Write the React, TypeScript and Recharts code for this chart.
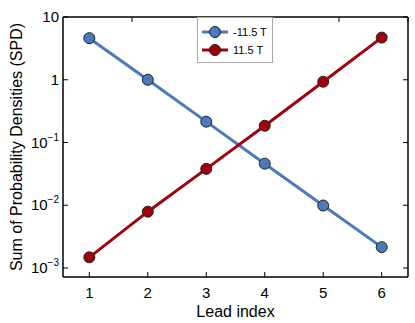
import React from "react"
import { LineChart, Line, XAxis, YAxis, Legend } from "recharts"

const leads = [1, 2, 3, 4, 5, 6]
const negField = [4.6, 1.0, 0.215, 0.046, 0.0099, 0.00215]
const posField = [0.00148, 0.0079, 0.038, 0.185, 0.93, 4.7]
const xTicks = [1, 2, 3, 4, 5, 6]
const yTicks = [0.001, 0.01, 0.1, 1, 10]
const seriesNames = ["-11.5 T", "11.5 T"]

const BLUE = "#4a7abb"
const RED = "#a2000f"
const FONT = "'Liberation Sans', Arial, Helvetica, sans-serif"

const data = leads.map((lead, i) => ({ lead, neg: negField[i], pos: posField[i] }))

const BottomTick = ({ x, y, payload }: any) => (
  <g>
    <line x1={x} x2={x} y1={y} y2={y - 5} stroke="#000" />
    <text x={x} y={y + 21} textAnchor="middle" fontSize={15} fontFamily={FONT} fill="#000">
      {payload.value}
    </text>
  </g>
)

const TopTick = ({ x, y }: any) => <line x1={x} x2={x} y1={y} y2={y + 5} stroke="#000" />

const RightTick = ({ x, y }: any) => <line x1={x} x2={x - 5} y1={y} y2={y} stroke="#000" />

const LeftTick = ({ x, y, payload }: any) => {
  const v = payload.value
  const exp = Math.round(Math.log10(v))
  return (
    <g>
      <line x1={x} x2={x + 5} y1={y} y2={y} stroke="#000" />
      <text x={x - 4} y={y + 5} textAnchor="end" fontSize={15} fontFamily={FONT} fill="#000">
        {exp >= 0 ? String(v) : (
          <>
            10<tspan dy={-7} fontSize={10}>{"\u2212" + -exp}</tspan>
          </>
        )}
      </text>
    </g>
  )
}

const LegendBox = () => (
  <div style={{ width: 76, height: 46, border: "1px solid #aaa", background: "#fff", boxSizing: "border-box" }}>
    <svg width={74} height={44}>
      {[BLUE, RED].map((c, i) => (
        <g key={i}>
          <line x1={4} x2={30} y1={14 + i * 18} y2={14 + i * 18} stroke={c} strokeWidth={3} />
          <circle cx={17} cy={14 + i * 18} r={5.5} fill={c} stroke="#222" strokeWidth={1} />
          <text x={35} y={18 + i * 18} fontSize={11} fontFamily={FONT} fill="#000">{seriesNames[i]}</text>
        </g>
      ))}
    </svg>
  </div>
)

export default function App() {
  return (
    <div style={{ position: "absolute", left: 0, top: 0, width: 415, height: 323, background: "#fff" }}>
      <LineChart width={415} height={323} data={data} margin={{ top: 0, right: 0, left: 0, bottom: 0 }}>
        <XAxis
          dataKey="lead"
          type="number"
          domain={[0.55, 6.45]}
          ticks={xTicks}
          allowDataOverflow
          height={46}
          tickSize={0}
          tickMargin={0}
          tickLine={false}
          axisLine={{ stroke: "#000", strokeWidth: 1.5 }}
          tick={<BottomTick />}
          interval={0}
        />
        <XAxis
          xAxisId="top"
          orientation="top"
          type="number"
          domain={[0.55, 6.45]}
          ticks={xTicks}
          allowDataOverflow
          height={17}
          tickSize={0}
          tickMargin={0}
          tickLine={false}
          axisLine={{ stroke: "#000", strokeWidth: 1.5 }}
          tick={<TopTick />}
          interval={0}
        />
        <YAxis
          scale="log"
          type="number"
          domain={[7.19e-4, 10]}
          ticks={yTicks}
          allowDataOverflow
          width={63}
          tickSize={0}
          tickMargin={0}
          tickLine={false}
          axisLine={{ stroke: "#000", strokeWidth: 1.5 }}
          tick={<LeftTick />}
          interval={0}
        />
        <YAxis
          yAxisId="right"
          orientation="right"
          scale="log"
          type="number"
          domain={[7.19e-4, 10]}
          ticks={yTicks}
          allowDataOverflow
          width={7}
          tickSize={0}
          tickMargin={0}
          tickLine={false}
          axisLine={{ stroke: "#000", strokeWidth: 1.5 }}
          tick={<RightTick />}
          interval={0}
        />
        <Legend
          layout="vertical"
          align="center"
          verticalAlign="middle"
          content={<LegendBox />}
          wrapperStyle={{ left: 197, top: 17, width: 76, height: 46 }}
        />
        <Line
          dataKey="neg"
          name={seriesNames[0]}
          stroke={BLUE}
          strokeWidth={3}
          dot={{ r: 5.5, fill: BLUE, stroke: "#222", strokeWidth: 1 }}
          isAnimationActive={false}
        />
        <Line
          dataKey="pos"
          name={seriesNames[1]}
          stroke={RED}
          strokeWidth={3}
          dot={{ r: 5.5, fill: RED, stroke: "#222", strokeWidth: 1 }}
          isAnimationActive={false}
        />
        <text
          transform="translate(22,147) rotate(-90)"
          textAnchor="middle"
          fontSize={16}
          fontFamily={FONT}
          fill="#000"
        >
          Sum of Probability Densities (SPD)
        </text>
        <text x={235.5} y={317} textAnchor="middle" fontSize={16} fontFamily={FONT} fill="#000">
          Lead index
        </text>
      </LineChart>
    </div>
  )
}
